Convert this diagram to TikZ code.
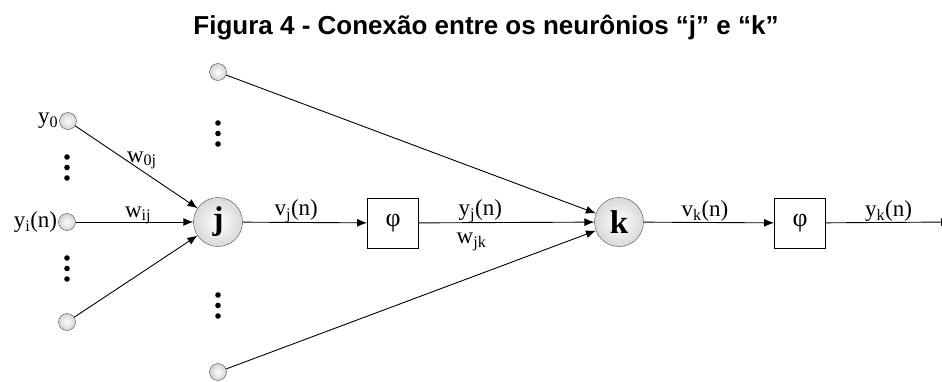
\documentclass[tikz,border=0pt]{standalone}
\usepackage{fontspec}
\setmainfont{Liberation Serif}
\newfontfamily\titlefont{Liberation Sans}
\usetikzlibrary{arrows.meta,positioning}

\begin{document}
\begin{tikzpicture}[x=1pt, y=-1pt, font=\fontsize{23}{23}\selectfont,
    inp/.style={circle, draw=gray!60!black, inner sep=0pt, minimum size=17pt,
        inner color=white, outer color=gray!35},
    neuron/.style={circle, draw=gray!60!black, inner sep=0pt, minimum size=49pt,
        inner color=white, outer color=gray!30, font=\bfseries\fontsize{33}{33}\selectfont},
    phibox/.style={draw, line width=0.9pt, minimum width=51pt, minimum height=50pt,
        font=\fontsize{26}{26}\selectfont},
    conn/.style={line width=0.9pt, -{Latex[length=10pt, width=8pt]}},
    lbl/.style={inner sep=0pt, anchor=base}]
    \useasboundingbox (0,0) rectangle (942,381);
    \node[font=\titlefont\bfseries\fontsize{26}{26}\selectfont, anchor=base] (title) at (486,34)
        {Figura 4 - Conexão entre os neurônios “j” e “k”};
    % inputs of j
    \node[inp] (y0) at (68,121) {};
    \node[inp] (yi) at (67,222) {};
    \node[inp] (yl) at (67,322) {};
    \node[left=0pt of y0, inner sep=1pt] (y0lbl) {y\textsubscript{0}};
    \node[left=0pt of yi, inner sep=1pt] (yilbl) {y\textsubscript{i}(n)};
    % other inputs of k
    \node[inp] (top) at (218,72) {};
    \node[inp] (bot) at (218,372) {};
    % neurons and activations
    \node[neuron] (j) at (218,222) {j};
    \node[phibox] (phij) at (393,223) {φ};
    \node[neuron] (k) at (619,222) {k};
    \node[phibox] (phik) at (800,223) {φ};
    \coordinate (out) at (951,222);
    % dots
    \foreach \px/\py in {67/157, 67/258, 218/123, 218/295}
        \foreach \d in {0,1,2}
            \fill (\px,\py+\d*10.5) circle (2.8pt);
    % connections
    \draw[conn] (y0) -- node[lbl, pos=.42, anchor=west] (w0j) {w\textsubscript{0j}} (j);
    \draw[conn] (yi) -- node[lbl, pos=.53, yshift=5pt] (wij) {w\textsubscript{ij}} (j);
    \draw[conn] (yl) -- (j);
    \draw[conn] (j) -- node[lbl, pos=.43, yshift=7pt] (vj) {v\textsubscript{j}(n)} (phij);
    \draw[conn] (phij) -- node[lbl, pos=.35, yshift=7pt] (yj) {y\textsubscript{j}(n)}
        node[lbl, pos=.30, yshift=-21pt] (wjk) {w\textsubscript{jk}} (k);
    \draw[conn] (top) -- (k);
    \draw[conn] (bot) -- (k);
    \draw[conn] (k) -- node[lbl, pos=.47, yshift=6pt] (vk) {v\textsubscript{k}(n)} (phik);
    \draw[conn] (phik) -- node[lbl, pos=.50, yshift=6pt] (yk) {y\textsubscript{k}(n)} (out);
\end{tikzpicture}
\end{document}
